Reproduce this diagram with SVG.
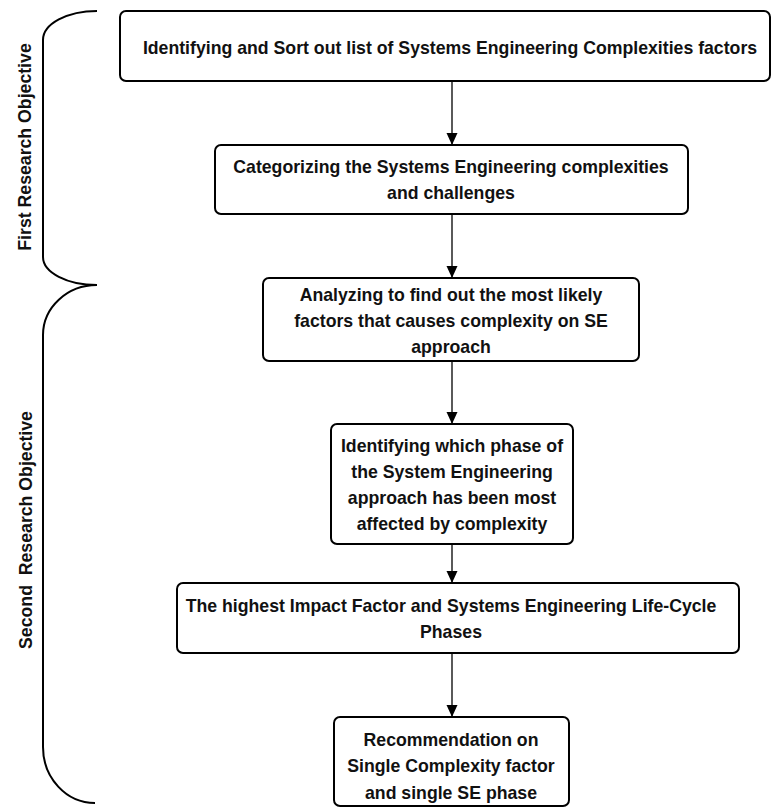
<svg xmlns="http://www.w3.org/2000/svg" width="772" height="809" viewBox="0 0 772 809">
  <style>
    .box { fill: #ffffff; stroke: #000000; stroke-width: 2; }
    .lbl { font-family: "Liberation Sans", Arial, sans-serif; font-weight: bold; font-size: 17.7px; fill: #111111; text-anchor: middle; }
    .edge { stroke: #000000; stroke-width: 1.3; fill: none; marker-end: url(#arrow); }
    .brace { stroke: #000000; stroke-width: 2; fill: none; }
  </style>
  <defs>
    <marker id="arrow" markerUnits="userSpaceOnUse" markerWidth="12" markerHeight="13" refX="12" refY="5.5" orient="auto">
      <path d="M0,0 L12,5.5 L0,11 Z" fill="#000000"/>
    </marker>
  </defs>
  <rect width="772" height="809" fill="#ffffff"/>

  <!-- objective braces -->
  <g id="first-objective">
    <path class="brace" d="M97,11 A54,29 0 0 0 43,40 L43,257 A54,28 0 0 0 97,285"/>
    <text class="lbl" transform="translate(31,147) rotate(-90)">First Research Objective</text>
  </g>
  <g id="second-objective">
    <path class="brace" d="M97,285 A54,50 0 0 0 43,335 L43,747 A52,56 0 0 0 95,803"/>
    <text class="lbl" transform="translate(32,530) rotate(-90)" xml:space="preserve">Second  Research Objective</text>
  </g>

  <!-- connectors -->
  <g id="connectors">
    <line class="edge" x1="452" y1="81" x2="452" y2="145"/>
    <line class="edge" x1="452" y1="214" x2="452" y2="278"/>
    <line class="edge" x1="452" y1="361" x2="452" y2="424"/>
    <line class="edge" x1="452" y1="544" x2="452" y2="583"/>
    <line class="edge" x1="452" y1="653" x2="452" y2="717"/>
  </g>

  <!-- process steps -->
  <g id="step1">
    <rect class="box" x="120" y="11" width="650" height="70" rx="6"/>
    <text class="lbl" x="450" y="54">Identifying and Sort out list of Systems Engineering Complexities factors</text>
  </g>
  <g id="step2">
    <rect class="box" x="215" y="145" width="473" height="69" rx="6"/>
    <text class="lbl" x="451" y="173">Categorizing the Systems Engineering complexities</text>
    <text class="lbl" x="451" y="199">and challenges</text>
  </g>
  <g id="step3">
    <rect class="box" x="263" y="278" width="376" height="83" rx="6"/>
    <text class="lbl" x="451" y="301">Analyzing to find out the most likely</text>
    <text class="lbl" x="451" y="327">factors that causes complexity on SE</text>
    <text class="lbl" x="451" y="353">approach</text>
  </g>
  <g id="step4">
    <rect class="box" x="331" y="424" width="242" height="120" rx="6"/>
    <text class="lbl" x="452" y="452">Identifying which phase of</text>
    <text class="lbl" x="452" y="478">the System Engineering</text>
    <text class="lbl" x="452" y="504">approach has been most</text>
    <text class="lbl" x="452" y="530">affected by complexity</text>
  </g>
  <g id="step5">
    <rect class="box" x="177" y="583" width="562" height="70" rx="6"/>
    <text class="lbl" x="451" y="612">The highest Impact Factor and Systems Engineering Life-Cycle</text>
    <text class="lbl" x="451" y="638">Phases</text>
  </g>
  <g id="step6">
    <rect class="box" x="334" y="717" width="235" height="89" rx="6"/>
    <text class="lbl" x="451" y="746">Recommendation on</text>
    <text class="lbl" x="451" y="772">Single Complexity factor</text>
    <text class="lbl" x="451" y="799">and single SE phase</text>
  </g>
</svg>
